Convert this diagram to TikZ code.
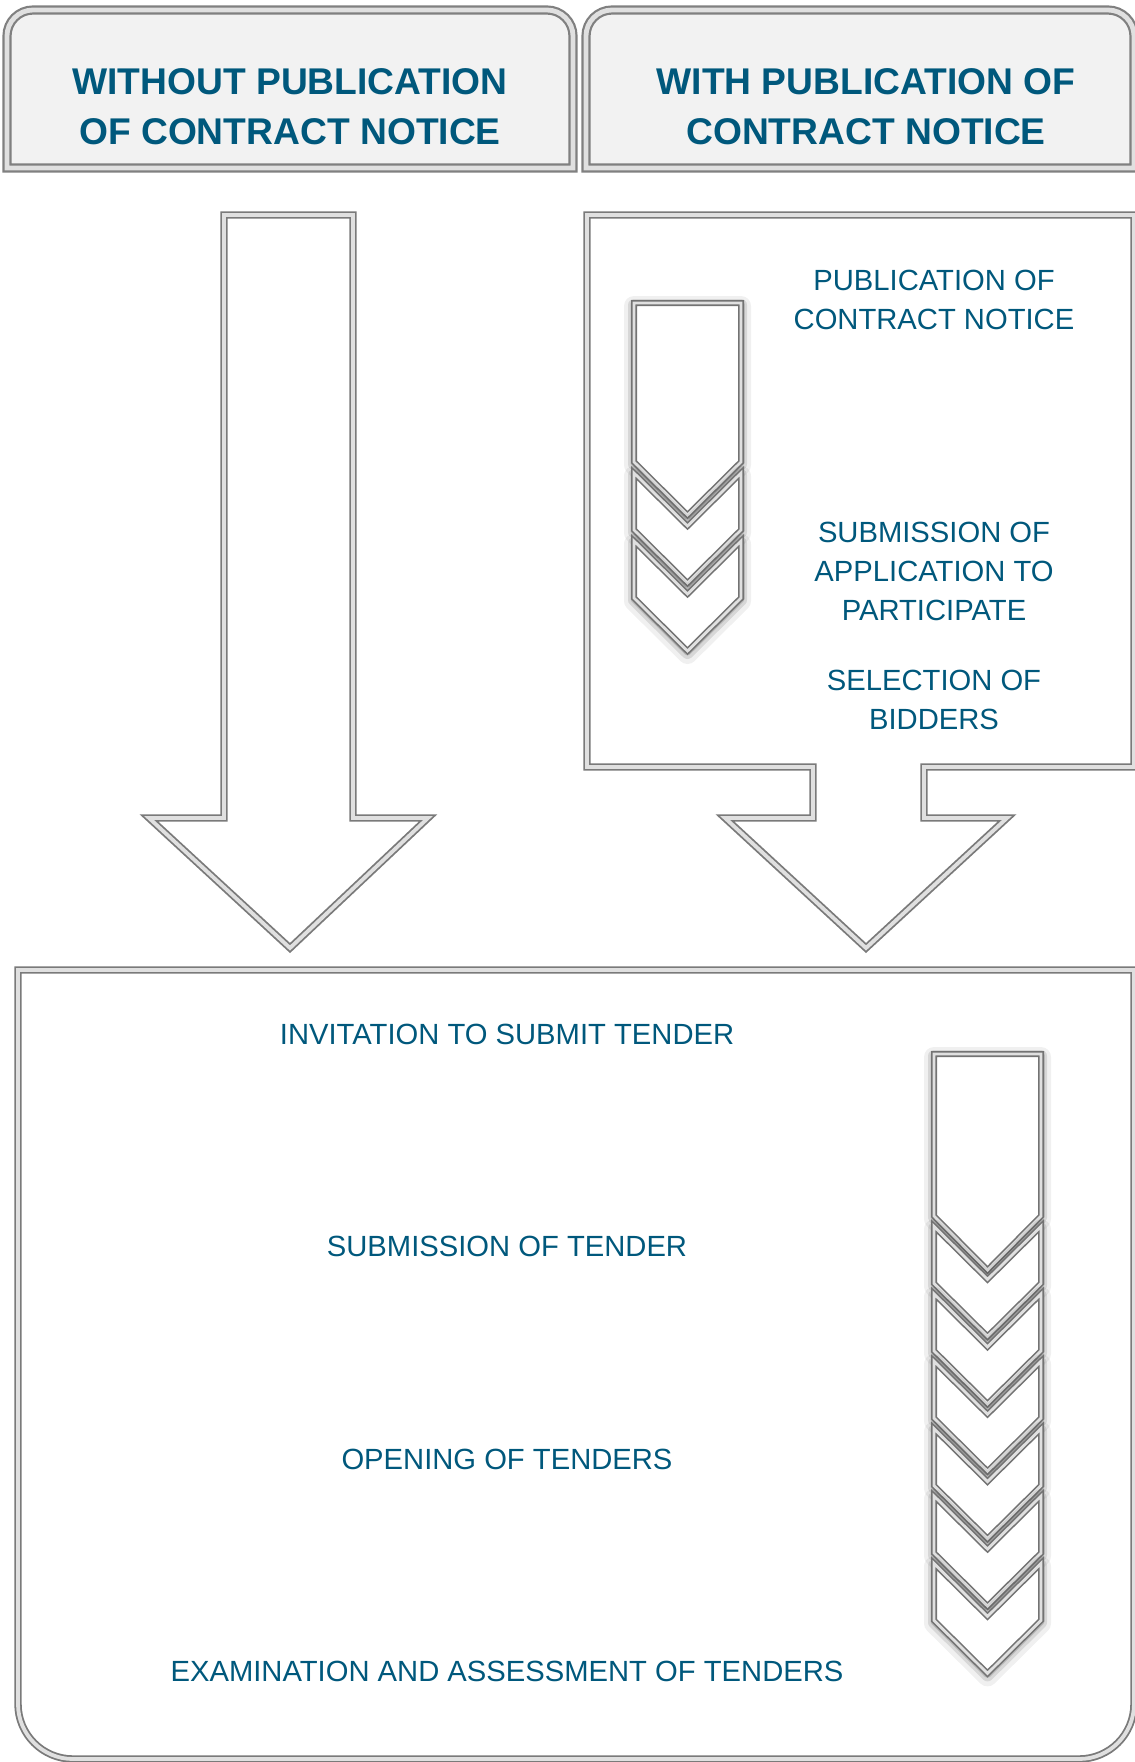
\documentclass[tikz,border=0pt]{standalone}
\usepackage{fontspec}
\setmainfont{Liberation Sans}
\definecolor{txt}{HTML}{00587C}
\definecolor{hdrfill}{HTML}{F2F2F2}
\newcommand\chevshape[1]{%
  \draw[black, opacity=0.06, line width=10pt, line join=round, shift={(0,3)}] #1;
  \draw[black, opacity=0.10, line width=6pt, line join=round, shift={(0,2)}] #1;
  \draw[black, opacity=0.15, line width=3.5pt, line join=round, shift={(0,1)}] #1;
  \draw[chevframe] #1;
}
\begin{document}
\begin{tikzpicture}[x=0.5pt,y=-0.5pt,
  hdrframe/.style={draw=black!50, double=black!12, line width=1.1pt, double distance=2.4pt, fill=hdrfill},
  bigframe/.style={draw=black!52, double=black!12, line width=0.9pt, double distance=1.9pt, fill=white},
  chevframe/.style={draw=black!55, double=black!12, line width=0.8pt, double distance=1.4pt, fill=white},
  lbl/.style={text=txt, align=center, font=\fontsize{14.6}{19.5}\selectfont, inner sep=0pt},
  hdr/.style={text=txt, align=center, font=\bfseries\fontsize{18.6}{24.75}\selectfont, inner sep=0pt}]
\useasboundingbox (0,0) rectangle (1135,1762);
\clip (0,0) rectangle (1135,1762);

% header boxes
\draw[hdrframe] (7,168) -- (7,36) arc[start angle=180,end angle=270,radius=26]
  -- (547,10) arc[start angle=270,end angle=360,radius=26] -- (573,168) -- cycle;
\draw[hdrframe] (586,168) -- (586,36) arc[start angle=180,end angle=270,radius=26]
  -- (1108,10) arc[start angle=270,end angle=360,radius=26] -- (1134,168) -- cycle;
\node[hdr] (h1) at (290,106.5) {WITHOUT PUBLICATION\\OF CONTRACT NOTICE};
\node[hdr] (h2) at (866,106.5) {WITH PUBLICATION OF\\CONTRACT NOTICE};

% left big arrow
\draw[bigframe] (224,215) -- (353,215) -- (353,818) -- (428,818) -- (290,948)
  -- (149,818) -- (224,818) -- cycle;

% right callout with arrow
\draw[bigframe] (587,215) -- (1134,215) -- (1134,767) -- (924,767) -- (924,818)
  -- (1007,818) -- (866,948) -- (725,818) -- (813,818) -- (813,767) -- (587,767) -- cycle;

% bottom box
\draw[bigframe] (18,970) -- (1134,970) -- (1134,1704) arc[start angle=0,end angle=90,radius=55]
  -- (73,1759) arc[start angle=90,end angle=180,radius=55] -- cycle;

% upper chevron group
\chevshape{(634,303) -- (741,303) -- (741,462) -- (687.5,515) -- (634,462) -- cycle}
\foreach \k [evaluate=\k as \yb using 462+68*\k] in {1,2}{
  \chevshape{(634,\yb-57) -- (687.5,\yb-4) -- (741,\yb-57) -- (741,\yb) -- (687.5,\yb+53) -- (634,\yb) -- cycle}
}

% lower chevron group
\chevshape{(934,1054) -- (1041,1054) -- (1041,1216) -- (987.5,1270) -- (934,1216) -- cycle}
\foreach \k [evaluate=\k as \yb using 1216+67.4*\k] in {1,...,6}{
  \chevshape{(934,\yb-57) -- (987.5,\yb-4) -- (1041,\yb-57) -- (1041,\yb) -- (987.5,\yb+53) -- (934,\yb) -- cycle}
}

% texts upper right
\node[lbl] (p1) at (934,299.5) {PUBLICATION OF\\CONTRACT NOTICE};
\node[lbl] (p2) at (934,571) {SUBMISSION OF\\APPLICATION TO\\PARTICIPATE};
\node[lbl] (p3) at (934,700) {SELECTION OF\\BIDDERS};

% texts bottom
\node[lbl] (b1) at (507,1034) {INVITATION TO SUBMIT TENDER};
\node[lbl] (b2) at (507,1246) {SUBMISSION OF TENDER};
\node[lbl] (b3) at (507,1459) {OPENING OF TENDERS};
\node[lbl] (b4) at (507,1671) {EXAMINATION AND ASSESSMENT OF TENDERS};
\end{tikzpicture}
\end{document}
